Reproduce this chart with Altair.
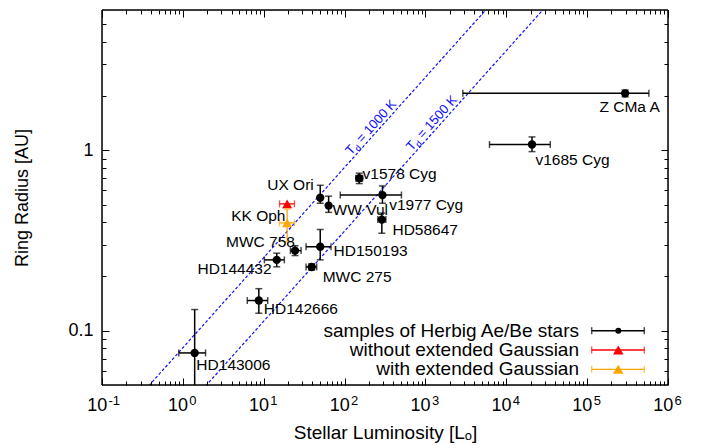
import math
import altair as alt
import pandas as pd

# ---------------- data ----------------
names = ["Z CMa A", "v1685 Cyg", "v1578 Cyg", "v1977 Cyg", "UX Ori", "WW Vul",
         "HD58647", "HD150193", "MWC 275", "MWC 758", "HD144432", "HD142666", "HD143006"]
lum = [2.95e5, 2.08e4, 152, 294, 50, 63.5, 289, 50, 39.2, 24.4, 14.5, 8.7, 1.40]
lum_lo = [2.9e3, 6.2e3, 138, 88.5, 50, 63.5, 258, 33.4, 33.4, 21.4, 10.2, 6.26, 0.89]
lum_hi = [5.8e5, 3.5e4, 167, 505, 50, 63.5, 324, 68, 45.2, 29.0, 18.0, 11.2, 1.91]
rad = [2.07, 1.078, 0.700, 0.565, 0.546, 0.494, 0.413, 0.292, 0.2256, 0.278, 0.247, 0.147, 0.0753]
rad_lo = [1.98, 0.984, 0.654, 0.509, 0.509, 0.453, 0.347, 0.247, 0.217, 0.261, 0.226, 0.125, 0.02]
rad_hi = [2.16, 1.187, 0.747, 0.635, 0.640, 0.557, 0.449, 0.364, 0.235, 0.296, 0.269, 0.171, 0.131]

# KK Oph, two model fits
kk_name = "KK Oph"
kk_fit = ["without extended Gaussian", "with extended Gaussian"]
kk_lum = [19.5, 19.5]
kk_lum_lo = [15.7, 15.7]
kk_lum_hi = [24.0, 24.0]
kk_rad = [0.505, 0.396]
kk_rad_lo = [0.505, 0.311]
kk_rad_hi = [0.505, 0.472]

# dust sublimation lines  R = coef * sqrt(L)
td_temps = ["1000 K", "1500 K"]
td_coef = [0.0804, 0.0357]
line_lum = [0.1, 1e6]
td_label_lum = [246.6, 1393.0]

x_major = [10.0 ** k for k in range(-1, 7)]
x_minor = [m * 10.0 ** k for k in range(-1, 6) for m in range(2, 10)]
y_major = [0.1, 1.0]
y_minor = [0.06, 0.07, 0.08, 0.09, 0.2, 0.3, 0.4, 0.5, 0.6, 0.7, 0.8, 0.9, 2, 3, 4, 5]
x_exponents = ["-1", "0", "1", "2", "3", "4", "5", "6"]

legend_labels = ["samples of Herbig Ae/Be stars", "without extended Gaussian", "with extended Gaussian"]

# ---------------- layout / style ----------------
W, H = 566, 375
PAD_L, PAD_T = 94, 2
XMIN, XMAX = 0.1, 1e6
YMIN, YMAX = 0.05, 6.0
FONT = "Liberation Sans"
BLUE = "#1010ff"
leg_colors = ["#000000", "#ff0000", "#ffa500"]
leg_shapes = ["circle", "triangle-up", "triangle-up"]
leg_sizes = [36, 110, 110]

label_off = {
    "Z CMa A": (-25.7, 14), "v1685 Cyg": (3.4, 15.7), "v1578 Cyg": (3.3, -4.3),
    "v1977 Cyg": (6.7, 10), "UX Ori": (-53, -12.6), "WW Vul": (4, 4.4),
    "HD58647": (10.6, 10), "HD150193": (13.3, 4.2), "MWC 275": (11, 10.5),
    "MWC 758": (-69, -8.3), "HD144432": (-79.3, 9.3), "HD142666": (5, 8.4),
    "HD143006": (1.7, 12.3),
}
kk_off = (-56, 11.7)

xscale = alt.Scale(type="log", domain=[XMIN, XMAX], nice=False)
yscale = alt.Scale(type="log", domain=[YMIN, YMAX], nice=False)


def X(f, axis=None):
    return alt.X(f, type="quantitative", scale=xscale, axis=axis)


def Y(f, axis=None):
    return alt.Y(f, type="quantitative", scale=yscale, axis=axis)


stars = pd.DataFrame({"name": names, "lum": lum, "lum_lo": lum_lo, "lum_hi": lum_hi,
                      "rad": rad, "rad_lo": rad_lo, "rad_hi": rad_hi})
kk = pd.DataFrame({"fit": kk_fit, "lum": kk_lum, "lum_lo": kk_lum_lo, "lum_hi": kk_lum_hi,
                   "rad": kk_rad, "rad_lo": kk_rad_lo, "rad_hi": kk_rad_hi})

lines = pd.DataFrame([{"temp": t, "lum": L, "rad": c * math.sqrt(L)}
                      for t, c in zip(td_temps, td_coef) for L in line_lum])
td_lab = pd.DataFrame([{"temp": t, "lum": L, "rad": c * math.sqrt(L), "txt": "= " + t}
                       for t, c, L in zip(td_temps, td_coef, td_label_lum)])

# angle of the lines on screen
ppd_x = W / math.log10(XMAX / XMIN)
ppd_y = H / math.log10(YMAX / YMIN)
ang = math.degrees(math.atan(0.5 * ppd_y / ppd_x))
text_angle = 360 - ang

layers = []
one = pd.DataFrame({"a": [0]})

# dashed lines
layers.append(alt.Chart(lines).mark_line(clip=True, strokeDash=[3, 2], strokeWidth=1.2, color=BLUE)
              .encode(X("lum"), Y("rad"), detail="temp:N"))

# T_d labels
TD_FS = 13
base_dy = -3
layers.append(alt.Chart(td_lab).mark_text(text="T", angle=text_angle, align="left", baseline="alphabetic",
                                          dx=-34.5, dy=base_dy, fontSize=TD_FS, font=FONT, color=BLUE)
              .encode(X("lum"), Y("rad")))
layers.append(alt.Chart(td_lab).mark_text(text="d", angle=text_angle, align="left", baseline="alphabetic",
                                          dx=-26.6, dy=base_dy + 3, fontSize=9, font=FONT, color=BLUE)
              .encode(X("lum"), Y("rad")))
layers.append(alt.Chart(td_lab).mark_text(angle=text_angle, align="left", baseline="alphabetic",
                                          dx=-18, dy=base_dy, fontSize=TD_FS, font=FONT, color=BLUE)
              .encode(X("lum"), Y("rad"), text="txt:N"))

EB = "#000000"
# error bars for stars
layers.append(alt.Chart(stars).mark_rule(clip=True, strokeWidth=1.5, color=EB)
              .encode(X("lum_lo"), x2="lum_hi", y=Y("rad")))
layers.append(alt.Chart(stars).mark_rule(clip=True, strokeWidth=1.5, color=EB)
              .encode(X("lum"), Y("rad_lo"), y2="rad_hi"))
for f in ["lum_lo", "lum_hi"]:
    layers.append(alt.Chart(stars).transform_filter("datum.lum_lo < datum.lum")
                  .mark_tick(clip=True, orient="vertical", size=7, thickness=1.5, color=EB)
                  .encode(X(f), Y("rad")))
for f in ["rad_lo", "rad_hi"]:
    layers.append(alt.Chart(stars).mark_tick(clip=True, orient="horizontal", size=7, thickness=1.5, color=EB)
                  .encode(X("lum"), Y(f)))
layers.append(alt.Chart(stars).mark_point(filled=True, shape="circle", size=70, opacity=1, color="black")
              .encode(X("lum"), Y("rad")))

# KK Oph
cscale = alt.Scale(domain=kk_fit, range=leg_colors[1:])
col_enc = alt.Color("fit:N", scale=cscale, legend=None)
layers.append(alt.Chart(kk).mark_rule(strokeWidth=1.3)
              .encode(X("lum_lo"), x2="lum_hi", y=Y("rad"), color=col_enc))
layers.append(alt.Chart(kk).transform_filter("datum.rad_lo < datum.rad")
              .mark_rule(strokeWidth=1.3)
              .encode(X("lum"), Y("rad_lo"), y2="rad_hi", color=col_enc))
for f in ["lum_lo", "lum_hi"]:
    layers.append(alt.Chart(kk).mark_tick(orient="vertical", size=7, thickness=1.3)
                  .encode(X(f), Y("rad"), color=col_enc))
for f in ["rad_lo", "rad_hi"]:
    layers.append(alt.Chart(kk).transform_filter("datum.rad_lo < datum.rad")
                  .mark_tick(orient="horizontal", size=7, thickness=1.3)
                  .encode(X("lum"), Y(f), color=col_enc))
layers.append(alt.Chart(kk).mark_point(filled=True, shape="triangle-up", size=100, opacity=1)
              .encode(X("lum"), Y("rad"), color=col_enc))

# star labels
for n in names:
    dx, dy = label_off[n]
    layers.append(alt.Chart(stars).transform_filter(alt.datum.name == n)
                  .mark_text(align="left", baseline="middle", dx=dx, dy=dy, fontSize=15.5, font=FONT, color="black")
                  .encode(X("lum"), Y("rad"), text="name:N"))
layers.append(alt.Chart(kk).transform_filter(alt.datum.fit == kk_fit[0])
              .mark_text(text=kk_name, align="left", baseline="middle", dx=kk_off[0], dy=kk_off[1],
                         fontSize=15.5, font=FONT, color="black")
              .encode(X("lum"), Y("rad")))

# legend (gnuplot style, right-aligned labels, samples on the right)
row_y_page = [330.7, 350.0, 369.3]
txt_x = 579 - 102
s_x1, s_x2, s_xm = 591.7 - 102, 644.3 - 102, 618.3 - 102
for i, lab in enumerate(legend_labels):
    yy = row_y_page[i] - (8 + PAD_T)
    col = leg_colors[i]
    sw = 1.5 if i == 0 else 1.3
    layers.append(alt.Chart(one).mark_text(text=lab, align="right", baseline="middle", fontSize=19,
                                           font=FONT, color="black")
                  .encode(x=alt.value(txt_x), y=alt.value(yy)))
    layers.append(alt.Chart(one).mark_rule(strokeWidth=sw, color=col)
                  .encode(x=alt.value(s_x1), x2=alt.value(s_x2), y=alt.value(yy)))
    for xx in (s_x1, s_x2):
        layers.append(alt.Chart(one).mark_tick(orient="vertical", size=7, thickness=sw, color=col)
                      .encode(x=alt.value(xx), y=alt.value(yy)))
    layers.append(alt.Chart(one).mark_point(filled=True, shape=leg_shapes[i], size=leg_sizes[i],
                                            opacity=1, color=col)
                  .encode(x=alt.value(s_xm), y=alt.value(yy)))

# axes: labels/titles + inward ticks on all four sides
dummy = pd.DataFrame({"lum": [1.0], "rad": [1.0]})
exp_expr = "[" + ",".join("'%s'" % s for s in x_exponents) + "][round(log(datum.value)/LN10)+1]"
x_base_axis = alt.Axis(orient="bottom", values=x_major, labelExpr="'10'", ticks=False, tickSize=0,
                       domain=False, grid=False, labelFontSize=18, labelPadding=25, labelColor="black",
                       labelFont=FONT, labelAlign="right", labelBaseline="alphabetic", labelOffset=4.7,
                       title="Stellar Luminosity [Lₒ]", titleFont=FONT, titleFontSize=19,
                       titleFontWeight="normal", titleColor="black", titleY=53, titleBaseline="alphabetic")
x_exp_axis = alt.Axis(orient="bottom", values=x_major, labelExpr=exp_expr, ticks=False, tickSize=0,
                      domain=False, grid=False, labelFontSize=13, labelPadding=19, labelColor="black",
                      labelFont=FONT, labelAlign="left", labelBaseline="alphabetic", labelOffset=6, title=None)
y_lab_axis = alt.Axis(orient="left", values=y_major, labelExpr="datum.value < 0.5 ? '0.1' : '1'",
                      ticks=False, tickSize=0, domain=False, grid=False, labelFontSize=18, labelPadding=9,
                      labelColor="black", labelFont=FONT, title="Ring Radius [AU]", titleFont=FONT,
                      titleFontSize=18, titleFontWeight="normal", titleColor="black", titleX=-80,
                      titleY=H / 2, titleAngle=270, titleAlign="center", titleBaseline="middle")
layers.append(alt.Chart(dummy).mark_point(opacity=0).encode(X("lum", x_base_axis), Y("rad", y_lab_axis)))
layers.append(alt.Chart(dummy).mark_point(opacity=0).encode(X("lum", x_exp_axis), Y("rad")))


def tick_axis(orient, offset, values, size):
    return alt.Axis(orient=orient, offset=offset, values=values, tickSize=size, tickColor="black",
                    tickWidth=1, labels=False, domain=False, grid=False, title=None)


for xo, yo, vals_x, vals_y, sz in [
    ("top", "right", x_major, y_major, 7),
    ("top", "right", x_minor, y_minor, 4),
    ("bottom", "left", x_major, y_major, 7),
    ("bottom", "left", x_minor, y_minor, 4),
]:
    layers.append(alt.Chart(dummy).mark_point(opacity=0)
                  .encode(X("lum", tick_axis(xo, -H, vals_x, sz)),
                          Y("rad", tick_axis(yo, -W, vals_y, sz))))

# plot frame, drawn last as four rules
FW = 1.5
layers.append(alt.Chart(one).mark_rule(strokeWidth=FW, color="black")
              .encode(x=alt.value(0), x2=alt.value(W), y=alt.value(0)))
layers.append(alt.Chart(one).mark_rule(strokeWidth=FW, color="black")
              .encode(x=alt.value(0), x2=alt.value(W), y=alt.value(H)))
layers.append(alt.Chart(one).mark_rule(strokeWidth=FW, color="black")
              .encode(x=alt.value(0), y=alt.value(0), y2=alt.value(H)))
layers.append(alt.Chart(one).mark_rule(strokeWidth=FW, color="black")
              .encode(x=alt.value(W), y=alt.value(0), y2=alt.value(H)))

chart = (alt.layer(*layers)
         .resolve_axis(x="independent", y="independent")
         .properties(width=W, height=H,
                     padding={"left": PAD_L, "top": PAD_T, "right": 30, "bottom": 62},
                     autosize=alt.AutoSizeParams(type="none"))
         .configure_view(stroke="black", strokeWidth=1.3)
         .configure(background="white"))

chart.save("out.html", embed_options={"renderer": "svg", "actions": False})
